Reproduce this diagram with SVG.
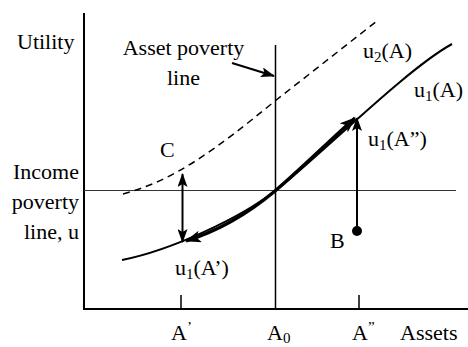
<svg xmlns="http://www.w3.org/2000/svg" width="468" height="347" viewBox="0 0 468 347">
<style>
text{font-family:"Liberation Serif","Times New Roman",Times,serif;font-size:22px;fill:#000}
.ax{stroke:#000;stroke-width:2;fill:none}
.thin{stroke:#000;stroke-width:1.5;fill:none}
.arr{stroke:#000;stroke-width:2;fill:none}
.thick{stroke:#000;stroke-width:3.4;fill:none}
.sub{font-size:15px}
</style>
<defs>
<marker id="ah" viewBox="0 0 14 10" refX="13" refY="5" markerWidth="14" markerHeight="10" markerUnits="userSpaceOnUse" orient="auto-start-reverse">
<path d="M0,0 L14,5 L0,10 L3,5 Z" fill="#000"/>
</marker>
<marker id="ahb" viewBox="0 0 16 12" refX="15" refY="6" markerWidth="16" markerHeight="12" markerUnits="userSpaceOnUse" orient="auto">
<path d="M0,0 L16,6 L0,12 L4,6 Z" fill="#000"/>
</marker>
</defs>
<g id="axes">
<line class="ax" x1="84" y1="13" x2="84" y2="310"/>
<line class="ax" x1="83" y1="309" x2="468" y2="309"/>
<line class="thin" x1="181" y1="295" x2="181" y2="309"/>
<line class="thin" x1="359" y1="295" x2="359" y2="309"/>
</g>
<g id="asset-poverty-line">
<line class="thin" x1="275.5" y1="45" x2="275.5" y2="309"/>
</g>
<g id="income-poverty-line">
<line x1="84" y1="190.5" x2="456" y2="190.5" stroke="#333" stroke-width="1.2"/>
</g>
<g id="u2-curve">
<path class="thin" stroke-dasharray="7,5" d="M123,194 C175,180 215,150 275,101 L377,21"/>
</g>
<g id="u1-curve">
<path class="ax" d="M122,260 C172,250 240,218 275,191 C320,156 405,70 452,44"/>
</g>
<g id="connectors">
<path class="thick" d="M275,191 C250,212 218,231 186,241" marker-end="url(#ahb)"/>
<path class="thick" d="M275,191 C300,170 330,140 355,118" marker-end="url(#ahb)"/>
<line class="arr" x1="182.5" y1="174" x2="182.5" y2="242" marker-start="url(#ah)" marker-end="url(#ah)"/>
<line class="arr" x1="357" y1="231" x2="357" y2="118" marker-end="url(#ah)"/>
<line class="arr" x1="232" y1="63" x2="274" y2="76" marker-end="url(#ah)"/>
</g>
<g id="point-B" font-family="Liberation Serif, serif">
<circle cx="357" cy="231" r="5" fill="#000"/>
<text x="330" y="248">B</text>
</g>
<g id="labels" font-family="Liberation Serif, serif">
<text x="17" y="49">Utility</text>
<text x="183.5" y="55" text-anchor="middle">Asset poverty</text>
<text x="183.5" y="85" text-anchor="middle">line</text>
<text x="160" y="157">C</text>
<text x="79" y="179" text-anchor="end">Income</text>
<text x="79" y="209" text-anchor="end">poverty</text>
<text x="79" y="239" text-anchor="end">line, u</text>
<text x="363" y="58">u<tspan class="sub" dy="4">2</tspan><tspan dy="-4">(A)</tspan></text>
<text x="414" y="97">u<tspan class="sub" dy="4">1</tspan><tspan dy="-4">(A)</tspan></text>
<text x="368" y="146">u<tspan class="sub" dy="4">1</tspan><tspan dy="-4">(A”)</tspan></text>
<text x="175" y="275">u<tspan class="sub" dy="4">1</tspan><tspan dy="-4">(A’)</tspan></text>
<text x="171" y="340">A<tspan class="sub" dy="-8">’</tspan></text>
<text x="267" y="340">A<tspan class="sub" dy="3">0</tspan></text>
<text x="352" y="340">A<tspan class="sub" dy="-8">”</tspan></text>
<text x="400" y="340">Assets</text>
</g>
</svg>
